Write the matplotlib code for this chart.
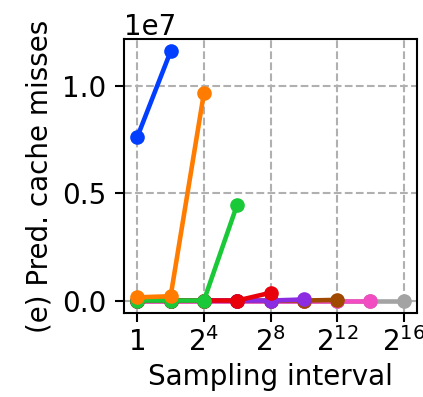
import matplotlib
matplotlib.use("Agg")
import matplotlib.pyplot as plt
import numpy as np

colors = ["#023eff", "#ff7c00", "#1ac938", "#e8000b", "#8b2be2", "#9f4800", "#f14cc1", "#a3a3a3"]

# sampling intervals (powers of two) and predicted cache misses per series
x_blue = [1, 4]
y_blue = [7.62e6, 1.160e7]
x_orange = [1, 4, 16]
y_orange = [1.5e5, 2.0e5, 9.66e6]
x_green = [1, 4, 16, 64]
y_green = [0, 0, 0, 4.47e6]
x_red = [1, 4, 16, 64, 256]
y_red = [0, 0, 0, 0, 3.6e5]
x_purple = [1, 4, 16, 64, 256, 1024]
y_purple = [0, 0, 0, 0, 0, 5e4]
x_brown = [1, 4, 16, 64, 256, 1024, 4096]
y_brown = [0, 0, 0, 0, 0, 0, 3e4]
x_pink = [1, 4, 16, 64, 256, 1024, 4096, 16384]
y_pink = [0, 0, 0, 0, 0, 0, 0, 0]
x_gray = [1, 4, 16, 64, 256, 1024, 4096, 16384, 65536]
y_gray = [0, 0, 0, 0, 0, 0, 0, 0, 0]

series = [(x_blue, y_blue), (x_orange, y_orange), (x_green, y_green), (x_red, y_red),
          (x_purple, y_purple), (x_brown, y_brown), (x_pink, y_pink), (x_gray, y_gray)]

xticks = [1, 16, 256, 4096, 65536]
xticklabels = ["1", "$2^4$", "$2^8$", "$2^{12}$", "$2^{16}$"]
yticks = [0, 0.5e7, 1.0e7]

plt.rcParams['font.size'] = 20
fig = plt.figure(figsize=(4.23, 3.97), dpi=100)
ax = fig.add_axes([124/423, 1-313/397, (417-124)/423, (313-39)/397])

n = len(series)
for i, ((xs, ys), c) in enumerate(zip(series, colors)):
    ax.plot(xs, ys, color=c, lw=3.3, marker='o', markersize=9.5, zorder=3 + n - i)

ax.set_xscale('log', base=2)
ax.set_xticks(xticks)
ax.set_xticklabels(xticklabels)
ax.minorticks_off()
ax.set_yticks(yticks)
ax.grid(True, linestyle='--', color='#b0b0b0', lw=1.5)
ax.set_axisbelow(True)
ax.set_xlabel("Sampling interval", labelpad=4)
ax.set_ylabel("(e) Pred. cache misses", labelpad=6)
ax.tick_params(axis='x', length=6.5, width=1.5, pad=4)
ax.tick_params(axis='y', length=6.5, width=1.5, pad=6)
for s in ax.spines.values():
    s.set_linewidth(1.5)

fig.savefig("out.png", dpi=100)
